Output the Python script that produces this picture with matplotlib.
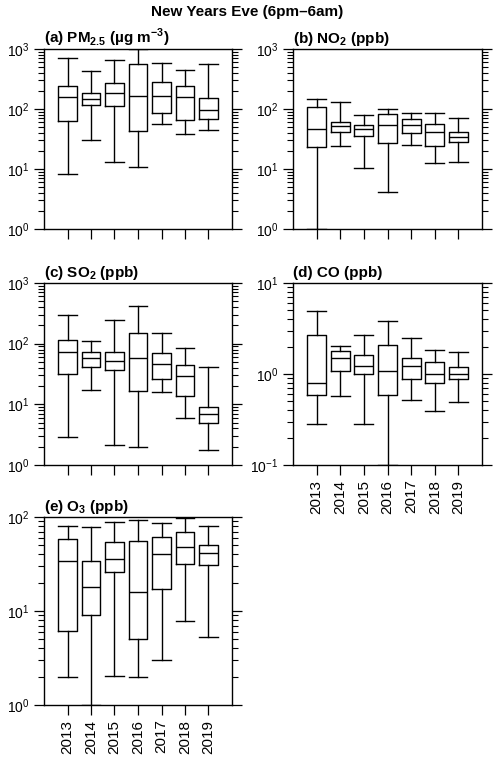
import matplotlib
matplotlib.use("Agg")
import matplotlib.pyplot as plt
from matplotlib.ticker import LogLocator, NullFormatter

plt.rcParams['font.family'] = ['Liberation Sans', 'DejaVu Sans']
plt.rcParams['axes.linewidth'] = 1.0

years = ['2013', '2014', '2015', '2016', '2017', '2018', '2019']

# box statistics: low whisker, Q1, median, Q3, high whisker
pm25 = dict(lo=[8.1, 30, 12.9, 10.7, 56, 38, 44],
            q1=[62, 118, 113, 43, 86, 66, 68],
            med=[156, 145, 186, 166, 166, 160, 95],
            q3=[239, 182, 274, 571, 277, 239, 153],
            hi=[700, 435, 655, 990, 578, 440, 557])
no2 = dict(lo=[1.0, 24, 10.4, 4.1, 25, 12.8, 13],
           q1=[23, 41, 35, 27, 40, 24, 28],
           med=[47, 53, 47, 54, 55, 42, 34],
           q3=[108, 61, 55, 81, 69, 57, 42],
           hi=[144, 130, 80, 100, 85, 85, 70])
so2 = dict(lo=[2.9, 17, 2.1, 2.0, 15.8, 5.9, 1.8],
           q1=[32, 42, 37, 16.4, 26, 13.8, 4.9],
           med=[73, 58, 52, 58, 46, 29.5, 6.9],
           q3=[117, 73, 74, 152, 71, 44, 9],
           hi=[292, 109, 245, 412, 148, 85, 41])
co = dict(lo=[0.28, 0.58, 0.28, 0.1, 0.52, 0.39, 0.49],
          q1=[0.59, 1.09, 1.0, 0.59, 0.89, 0.79, 0.89],
          med=[0.80, 1.51, 1.22, 1.09, 1.22, 1.0, 1.0],
          q3=[2.67, 1.81, 1.63, 2.09, 1.51, 1.36, 1.2],
          hi=[4.95, 2.04, 2.67, 3.84, 2.5, 1.82, 1.73])
o3 = dict(lo=[2.0, 1.0, 2.05, 2.0, 3.0, 7.9, 5.3],
          q1=[6.2, 9, 26, 5.0, 17, 32, 31],
          med=[34, 18, 36, 16, 40, 48, 41],
          q3=[58, 34, 54, 56, 61, 69, 50],
          hi=[80, 78, 88, 94, 87, 98, 81])

W, H = 500, 764
fig = plt.figure(figsize=(W / 100, H / 100), dpi=100)


def px_axes(left, right, top, bottom):
    return fig.add_axes([left / W, 1 - bottom / H, (right - left) / W, (bottom - top) / H])


def draw_panel(ax, data, title, ylim, show_years):
    stats = []
    for i, yr in enumerate(years):
        stats.append(dict(label=yr, whislo=data['lo'][i], q1=data['q1'][i],
                          med=data['med'][i], q3=data['q3'][i], whishi=data['hi'][i]))
    line = dict(color='black', linewidth=1.0)
    ax.bxp(stats, positions=range(1, 8), widths=0.8, capwidths=0.8,
           showfliers=False, boxprops=line, whiskerprops=line,
           capprops=line, medianprops=line)
    ax.set_yscale('log')
    ax.set_ylim(*ylim)
    ax.set_xlim(0, 8)
    ax.yaxis.set_major_locator(LogLocator(base=10, numticks=10))
    ax.yaxis.set_minor_locator(LogLocator(base=10, subs=range(2, 10), numticks=20))
    ax.yaxis.set_minor_formatter(NullFormatter())
    ax.tick_params(axis='y', which='both', direction='out', left=True, right=True,
                   labelsize=10, colors='black')
    ax.tick_params(axis='y', which='major', length=7, width=0.9)
    ax.tick_params(axis='y', which='minor', length=4, width=0.8)
    ax.tick_params(axis='x', which='both', direction='out', top=False,
                   length=7, width=0.9, labelsize=11)
    ax.set_xticks(range(1, 8))
    if show_years:
        ax.set_xticklabels(years, rotation=90)
    else:
        ax.set_xticklabels([])
    ax.set_title(title, loc='left', fontsize=11, fontweight='bold', pad=4)


ax_a = px_axes(44, 232, 49, 229)
draw_panel(ax_a, pm25, r'(a) PM$_{\mathdefault{2.5}}$ (µg m$^{\mathdefault{-3}}$)', (1, 1000), False)
ax_b = px_axes(293, 482, 49, 229)
draw_panel(ax_b, no2, r'(b) NO$_{\mathdefault{2}}$ (ppb)', (1, 1000), False)
ax_c = px_axes(44, 232, 283, 465)
draw_panel(ax_c, so2, r'(c) SO$_{\mathdefault{2}}$ (ppb)', (1, 1000), False)
ax_d = px_axes(293, 482, 283, 465)
draw_panel(ax_d, co, '(d) CO (ppb)', (0.1, 10), True)
ax_e = px_axes(44, 232, 517, 705)
draw_panel(ax_e, o3, r'(e) O$_{\mathdefault{3}}$ (ppb)', (1, 100), True)

fig.text(0.495, 1 - 12 / H, 'New Years Eve (6pm–6am)', ha='center', va='center',
         fontsize=11, fontweight='bold')

fig.savefig('out.png', dpi=100)
